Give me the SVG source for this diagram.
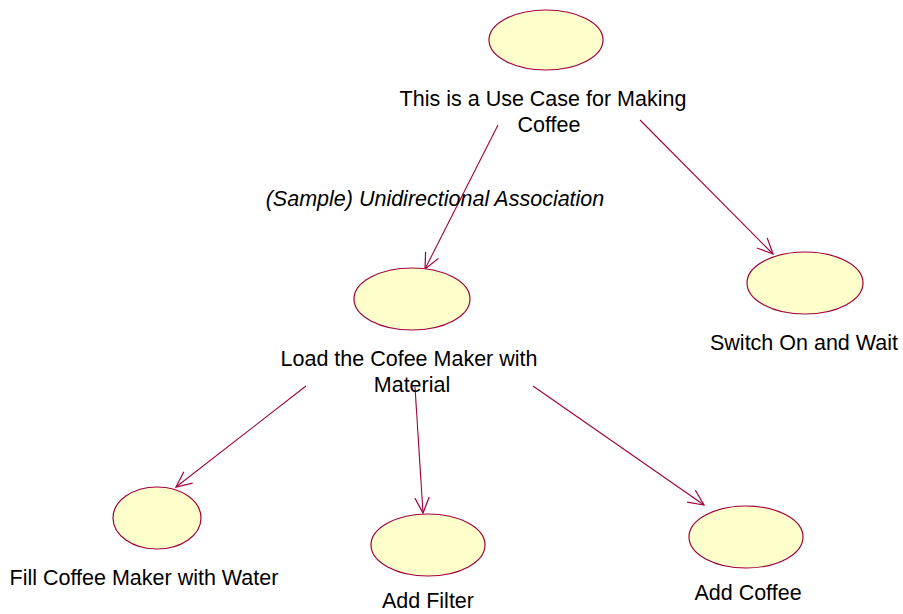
<svg xmlns="http://www.w3.org/2000/svg" width="903" height="614" viewBox="0 0 903 614">
  <style>
    .uc { fill: #ffffcc; stroke: #a0003c; stroke-width: 1.2; }
    .lbl { font-family: "Liberation Sans", Arial, sans-serif; font-size: 21.5px; fill: #000; text-anchor: middle; }
    .assoc { stroke: #a0003c; stroke-width: 1.1; fill: none; marker-end: url(#open); }
  </style>
  <defs>
    <marker id="open" markerUnits="userSpaceOnUse" markerWidth="20" markerHeight="20" viewBox="-16 -8 18 16" refX="0" refY="0" orient="auto">
      <path d="M-14,-6.5 L0,0 L-14,6.5" fill="none" stroke="#a0003c" stroke-width="1.1"/>
    </marker>
  </defs>

  <g id="connectors">
    <line class="assoc" x1="498" y1="125" x2="425" y2="269"/>
    <line class="assoc" x1="640" y1="120" x2="773" y2="254"/>
    <line class="assoc" x1="306" y1="386" x2="176" y2="487"/>
    <line class="assoc" x1="415" y1="387" x2="423" y2="513"/>
    <line class="assoc" x1="533" y1="386" x2="704" y2="505"/>
    <text class="lbl" x="435" y="206" font-style="italic">(Sample) Unidirectional Association</text>
  </g>

  <g id="making-coffee">
    <ellipse class="uc" cx="546" cy="40" rx="57" ry="30"/>
    <text class="lbl" x="543" y="106">This is a Use Case for Making</text>
    <text class="lbl" x="549" y="132">Coffee</text>
  </g>

  <g id="load-maker">
    <ellipse class="uc" cx="412" cy="299" rx="58" ry="31"/>
    <text class="lbl" x="409" y="366">Load the Cofee Maker with</text>
    <text class="lbl" x="412" y="392">Material</text>
  </g>

  <g id="switch-on">
    <ellipse class="uc" cx="805" cy="283" rx="58" ry="31"/>
    <text class="lbl" x="804" y="350">Switch On and Wait</text>
  </g>

  <g id="fill-water">
    <ellipse class="uc" cx="157" cy="518" rx="44" ry="31"/>
    <text class="lbl" x="144" y="585">Fill Coffee Maker with Water</text>
  </g>

  <g id="add-filter">
    <ellipse class="uc" cx="428" cy="545" rx="57" ry="31"/>
    <text class="lbl" x="428" y="608">Add Filter</text>
  </g>

  <g id="add-coffee">
    <ellipse class="uc" cx="746" cy="537" rx="57" ry="31"/>
    <text class="lbl" x="748" y="600">Add Coffee</text>
  </g>
</svg>
